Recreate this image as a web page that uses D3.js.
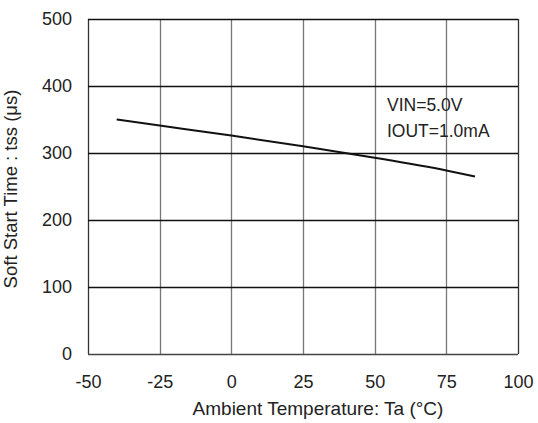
<!DOCTYPE html>
<html><head><meta charset="utf-8">
<script src="https://cdn.jsdelivr.net/npm/d3@7"></script>
<style>body{margin:0;background:#fff}svg{display:block}text{font-family:"Liberation Sans",Arial,sans-serif;fill:#222}</style>
</head><body>
<script>
const temps = [-40, -25, 0, 25, 50, 75, 85];
const tss = [350, 341, 326, 310, 293, 274, 265];
const xTicks = [-50, -25, 0, 25, 50, 75, 100];
const yTicks = [0, 100, 200, 300, 400, 500];
const annotations = ["VIN=5.0V", "IOUT=1.0mA"];

const W = 538, H = 423;
const m = {l: 88, r: 20, t: 19, b: 69};
const svg = d3.select("body").append("svg").attr("width", W).attr("height", H);
const x = d3.scaleLinear().domain([-50, 100]).range([m.l, W - m.r]);
const y = d3.scaleLinear().domain([0, 500]).range([H - m.b, m.t]);

const g = svg.append("g");
// vertical grid
g.selectAll(".vg").data(xTicks).join("line")
  .attr("x1", d => Math.round(x(d)) + 0.5).attr("x2", d => Math.round(x(d)) + 0.5)
  .attr("y1", y(0)).attr("y2", y(500))
  .attr("stroke", d => (d === -50 || d === 100) ? "#333" : "#777").attr("stroke-width", 1.3);
// horizontal grid
g.selectAll(".hg").data(yTicks).join("line")
  .attr("x1", x(-50)).attr("x2", x(100))
  .attr("y1", d => Math.round(y(d)) + 0.5).attr("y2", d => Math.round(y(d)) + 0.5)
  .attr("stroke", d => d === 0 ? "#444" : "#111").attr("stroke-width", 1.3);

const fmt = d => String(d);
// axes labels via d3 axes
const xAxis = svg.append("g").attr("transform", `translate(0,${y(0)})`)
  .call(d3.axisBottom(x).tickValues(xTicks).tickFormat(fmt).tickSize(0).tickPadding(21));
xAxis.select(".domain").remove();
xAxis.selectAll("text").attr("font-size", 18).style("font-family", "Liberation Sans, Arial, sans-serif").attr("fill", "#222");

const yAxis = svg.append("g").attr("transform", `translate(${x(-50)},0)`)
  .call(d3.axisLeft(y).tickValues(yTicks).tickFormat(fmt).tickSize(0).tickPadding(16));
yAxis.select(".domain").remove();
yAxis.selectAll("text").attr("font-size", 18).style("font-family", "Liberation Sans, Arial, sans-serif").attr("fill", "#222");

// data line
svg.append("path").datum(temps.map((t, i) => [t, tss[i]]))
  .attr("fill", "none").attr("stroke", "#111").attr("stroke-width", 2)
  .attr("d", d3.line().x(d => x(d[0])).y(d => y(d[1])).curve(d3.curveMonotoneX));

// annotations
svg.selectAll(".ann").data(annotations).join("text")
  .attr("x", 387).attr("y", (d, i) => 111 + i * 26)
  .attr("font-size", 17.5).text(d => d);

// axis titles
svg.append("text").attr("x", 318).attr("y", 415)
  .attr("text-anchor", "middle").attr("font-size", 19)
  .text("Ambient Temperature: Ta (°C)");
svg.append("text").attr("transform", `translate(17,189) rotate(-90)`)
  .attr("text-anchor", "middle").attr("font-size", 18.5)
  .text("Soft Start Time : tss (μs)");
</script>
</body></html>
